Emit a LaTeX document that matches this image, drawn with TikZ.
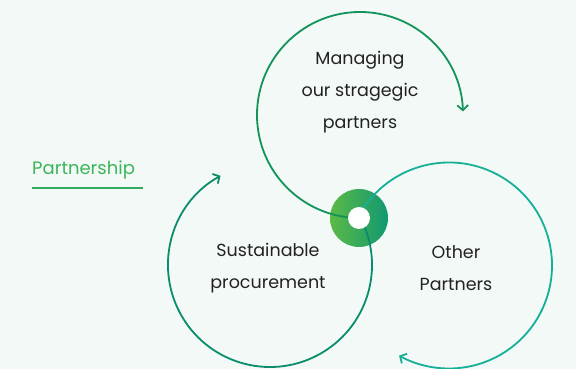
\documentclass[tikz,border=0pt]{standalone}
\usepackage{fontspec}
\setmainfont{Poppins}
\usetikzlibrary{arrows.meta}
\definecolor{bg}{HTML}{F3F9F6}
\definecolor{topc}{HTML}{12935A}
\definecolor{leftc}{HTML}{0B8C6C}
\definecolor{rightc}{HTML}{16AF98}
\definecolor{txt}{HTML}{222222}
\definecolor{pgreen}{HTML}{3DB65A}
\definecolor{gl}{HTML}{5CBA45}
\definecolor{gr}{HTML}{119872}
\begin{document}
\begin{tikzpicture}[x=1pt,y=1pt,
  arcline/.style={line width=1.8pt, -{Straight Barb[length=5pt,width=11pt,line width=1.8pt]}},
  label/.style={text=txt, font=\fontsize{17.5}{32}\selectfont, align=center, inner sep=0pt}]
\fill[bg] (0,0) rectangle (576,369);
\useasboundingbox (0,0) rectangle (576,369);
% centres
\coordinate (ct) at (360,254);
\coordinate (cl) at (270,104);
\coordinate (cr) at (449,103.5);
\coordinate (hub) at (359,151);
% ring
\shade[left color=gl, right color=gr] (hub) circle[radius=29];
% arcs
\draw[arcline, topc] (ct) ++(270:103) arc[start angle=270, end angle=2, radius=103];
\draw[arcline, leftc] (cl) ++(28:102) arc[start angle=28, end angle=-241, radius=102];
\draw[arcline, rightc] (cr) ++(152:103) arc[start angle=152, end angle=-119, radius=103];
% inner white disk
\node[circle, fill=white, minimum size=22pt, inner sep=0pt] (hubin) at (hub) {};
% labels
\node[label] (tl) at (360,277) {Managing\\our stragegic\\partners};
\node[label] (ll) at (268,101) {Sustainable\\procurement};
\node[label] (rl) at (456,101) {Other\\Partners};
% partnership
\node[text=pgreen, font=\fontsize{18}{20}\selectfont, anchor=base west, inner sep=0pt] (pt) at (32,194) {Partnership};
\draw[line width=2pt, color=pgreen!80!teal] (32,181) -- (143,181);
\end{tikzpicture}
\end{document}
